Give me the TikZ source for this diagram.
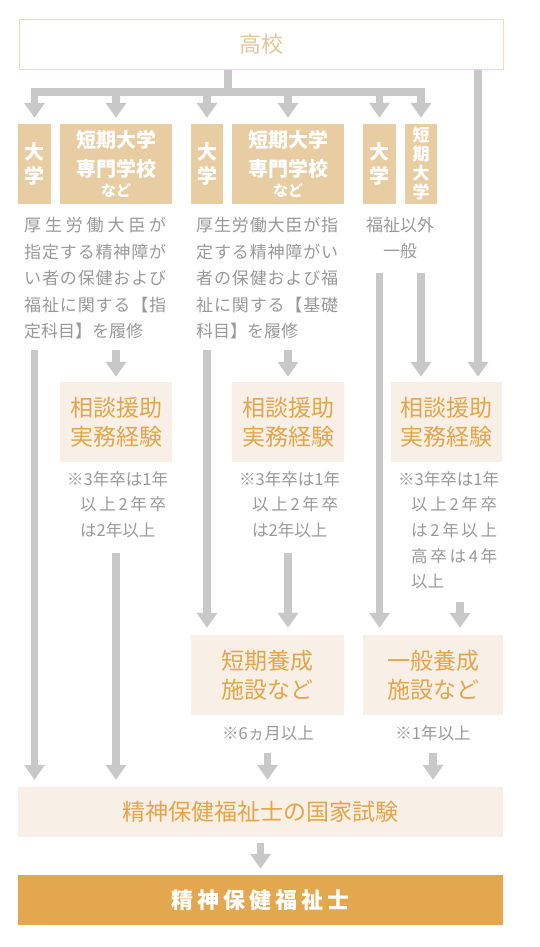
\documentclass[tikz,border=0pt]{standalone}
\usepackage{fontspec}
\setmainfont{Noto Sans CJK JP}
\usepackage{xcolor}
\usetikzlibrary{arrows.meta, positioning, calc}

\definecolor{tanfill}{HTML}{E8CCA2}
\definecolor{palefill}{HTML}{F8F0E6}
\definecolor{orangetext}{HTML}{E3A54A}
\definecolor{finalfill}{HTML}{E2A74F}
\definecolor{arrowgray}{HTML}{C8C8C8}
\definecolor{notegray}{HTML}{999999}
\definecolor{koukouline}{HTML}{EEDCBE}
\definecolor{koukoutext}{HTML}{E3C697}

% spread the characters of one line over a given width
\makeatletter
\newcommand\spreadline[2]{\makebox[#1][s]{\def\jpgap{}\@tfor\jpch:=#2\do{\jpgap\jpch\def\jpgap{\hfil}}}}
\makeatother

\begin{document}
\begin{tikzpicture}[
    x=1pt, y=-1pt,
    box/.style={
        rectangle,
        inner sep=0pt,
        align=center,
        minimum height=80pt
    },
    tanbox/.style={
        box,
        fill=tanfill,
        text=white,
        font=\fontsize{20}{24}\bfseries\selectfont
    },
    stepbox/.style={
        box,
        fill=palefill,
        text=orangetext,
        font=\fontsize{23}{29}\selectfont
    },
    widebox/.style={
        rectangle,
        inner sep=0pt,
        minimum width=485pt,
        minimum height=50pt
    },
    desc/.style={
        inner sep=0pt,
        align=left,
        text=notegray,
        font=\fontsize{17}{26.5}\selectfont
    },
    note/.style={
        inner sep=0pt,
        align=left,
        text=notegray,
        font=\fontsize{16.5}{25.7}\selectfont
    },
    gline/.style={
        draw=arrowgray,
        line width=7.5pt
    },
    arrow/.style={
        gline,
        -{Triangle[width=20pt, length=15pt]}
    }
]
\useasboundingbox (0,0) rectangle (540,947);

% === High school ===
\node[widebox, draw=koukouline, line width=1pt, fill=white, minimum width=484pt,
      text=koukoutext, font=\fontsize{22}{24}\selectfont] (koukou) at (261,44.5) {高校};

% === Schools ===
\node[tanbox, minimum width=33pt] (dai1) at (34.5,164) {大\\学};
\node[tanbox, minimum width=112pt, font=\fontsize{20}{29}\bfseries\selectfont] (tan1) at (116,164)
    {短期大学\\専門学校\\[-9pt]{\fontsize{15}{15}\selectfont など}};
\node[tanbox, minimum width=32pt] (dai2) at (207,164) {大\\学};
\node[tanbox, minimum width=112pt, font=\fontsize{20}{29}\bfseries\selectfont] (tan2) at (288,164)
    {短期大学\\専門学校\\[-9pt]{\fontsize{15}{15}\selectfont など}};
\node[tanbox, minimum width=33pt] (dai3) at (379.5,164) {大\\学};
\node[tanbox, minimum width=32pt, font=\fontsize{17}{19}\bfseries\selectfont] (tan3) at (421,164)
    {短\\期\\大\\学};

% === Courses ===
\node[desc, anchor=north west] (desc1) at (24,217)
    {\spreadline{142pt}{厚生労働大臣が}\\
     \spreadline{142pt}{指定する精神障が}\\
     \spreadline{142pt}{い者の保健および}\\
     \spreadline{142pt}{福祉に関する【指}\\
     定科目】を履修};
\node[desc, anchor=north west] (desc2) at (196,217)
    {\spreadline{142pt}{厚生労働大臣が指}\\
     \spreadline{142pt}{定する精神障がい}\\
     \spreadline{142pt}{者の保健および福}\\
     \spreadline{142pt}{祉に関する【基礎}\\
     科目】を履修};
\node[desc, align=center, anchor=north] (desc3) at (400,217) {福祉以外\\一般};

% === Practice ===
\node[stepbox, minimum width=112pt] (soudan1) at (116,422) {相談援助\\実務経験};
\node[stepbox, minimum width=112pt] (soudan2) at (288,422) {相談援助\\実務経験};
\node[stepbox, minimum width=111pt] (soudan3) at (446.5,422) {相談援助\\実務経験};

\node[note, anchor=north west] (note1) at (67,471)
    {※3年卒は1年\\
     \hspace*{13pt}\spreadline{86pt}{以上2年卒}\\
     \hspace*{13pt}は2年以上};
\node[note, anchor=north west] (note2) at (239,471)
    {※3年卒は1年\\
     \hspace*{13pt}\spreadline{86pt}{以上2年卒}\\
     \hspace*{13pt}は2年以上};
\node[note, anchor=north west] (note3) at (398,471)
    {※3年卒は1年\\
     \hspace*{13pt}\spreadline{86pt}{以上2年卒}\\
     \hspace*{13pt}\spreadline{86pt}{は2年以上}\\
     \hspace*{13pt}\spreadline{86pt}{高卒は4年}\\
     \hspace*{13pt}以上};

% === Training ===
\node[stepbox, minimum width=153pt] (yousei2) at (267.5,675) {短期養成\\施設など};
\node[stepbox, minimum width=140pt] (yousei3) at (433,675) {一般養成\\施設など};
\node[note, align=center] (note4) at (268,733) {※6ヵ月以上};
\node[note, align=center] (note5) at (433,733) {※1年以上};

% === Exam and qualification ===
\node[widebox, fill=palefill, text=orangetext, font=\fontsize{23}{24}\selectfont] (shiken) at (260.5,812)
    {精神保健福祉士の国家試験};
\node[widebox, fill=finalfill, text=white, font=\fontsize{22}{24}\bfseries\selectfont] (shikaku) at (260.5,900)
    {\spreadline{178pt}{精神保健福祉士}};

% === Arrows ===
\coordinate (bus) at (228,92);
\coordinate (rline) at (478,0);
\coordinate (row2) at (0,350);
\coordinate (row2b) at (0,273);
\coordinate (row3) at (0,553);
\coordinate (row3b) at (460,602);
\coordinate (row4) at (0,753);

\draw[gline] (koukou.south -| bus) -- (bus);
\draw[gline, line cap=rect] (bus -| dai1) -- (bus -| tan3);
\foreach \s in {dai1, tan1, dai2, tan2, dai3, tan3}
    \draw[arrow, shorten >=6pt] (bus -| \s) -- (\s.north);
\draw[arrow, shorten >=5pt] (koukou.south -| rline) -- (soudan3.north -| rline);

\draw[arrow, shorten >=7pt] (row2 -| dai1) -- (shiken.north -| dai1);
\draw[arrow, shorten >=5pt] (row2 -| tan1) -- (soudan1.north);
\draw[arrow, shorten >=7pt] (row3 -| tan1) -- (shiken.north -| tan1);

\draw[arrow, shorten >=7pt] (row2 -| dai2) -- (yousei2.north -| dai2);
\draw[arrow, shorten >=5pt] (row2 -| tan2) -- (soudan2.north -| tan2);
\draw[arrow, shorten >=7pt] (row3 -| tan2) -- (yousei2.north -| tan2);
\draw[arrow, shorten >=7pt] (row4 -| yousei2) -- (shiken.north -| yousei2);

\draw[arrow, shorten >=7pt] (row2b -| dai3) -- (yousei3.north -| dai3);
\draw[arrow, shorten >=5pt] (row2b -| tan3) -- (soudan3.north -| tan3);
\draw[arrow, shorten >=7pt] (row3b) -- (yousei3.north -| row3b);
\draw[arrow, shorten >=7pt] (row4 -| yousei3) -- (shiken.north -| yousei3);

\draw[arrow, shorten <=6pt, shorten >=6pt] (shiken.south) -- (shikaku.north);
\end{tikzpicture}
\end{document}
